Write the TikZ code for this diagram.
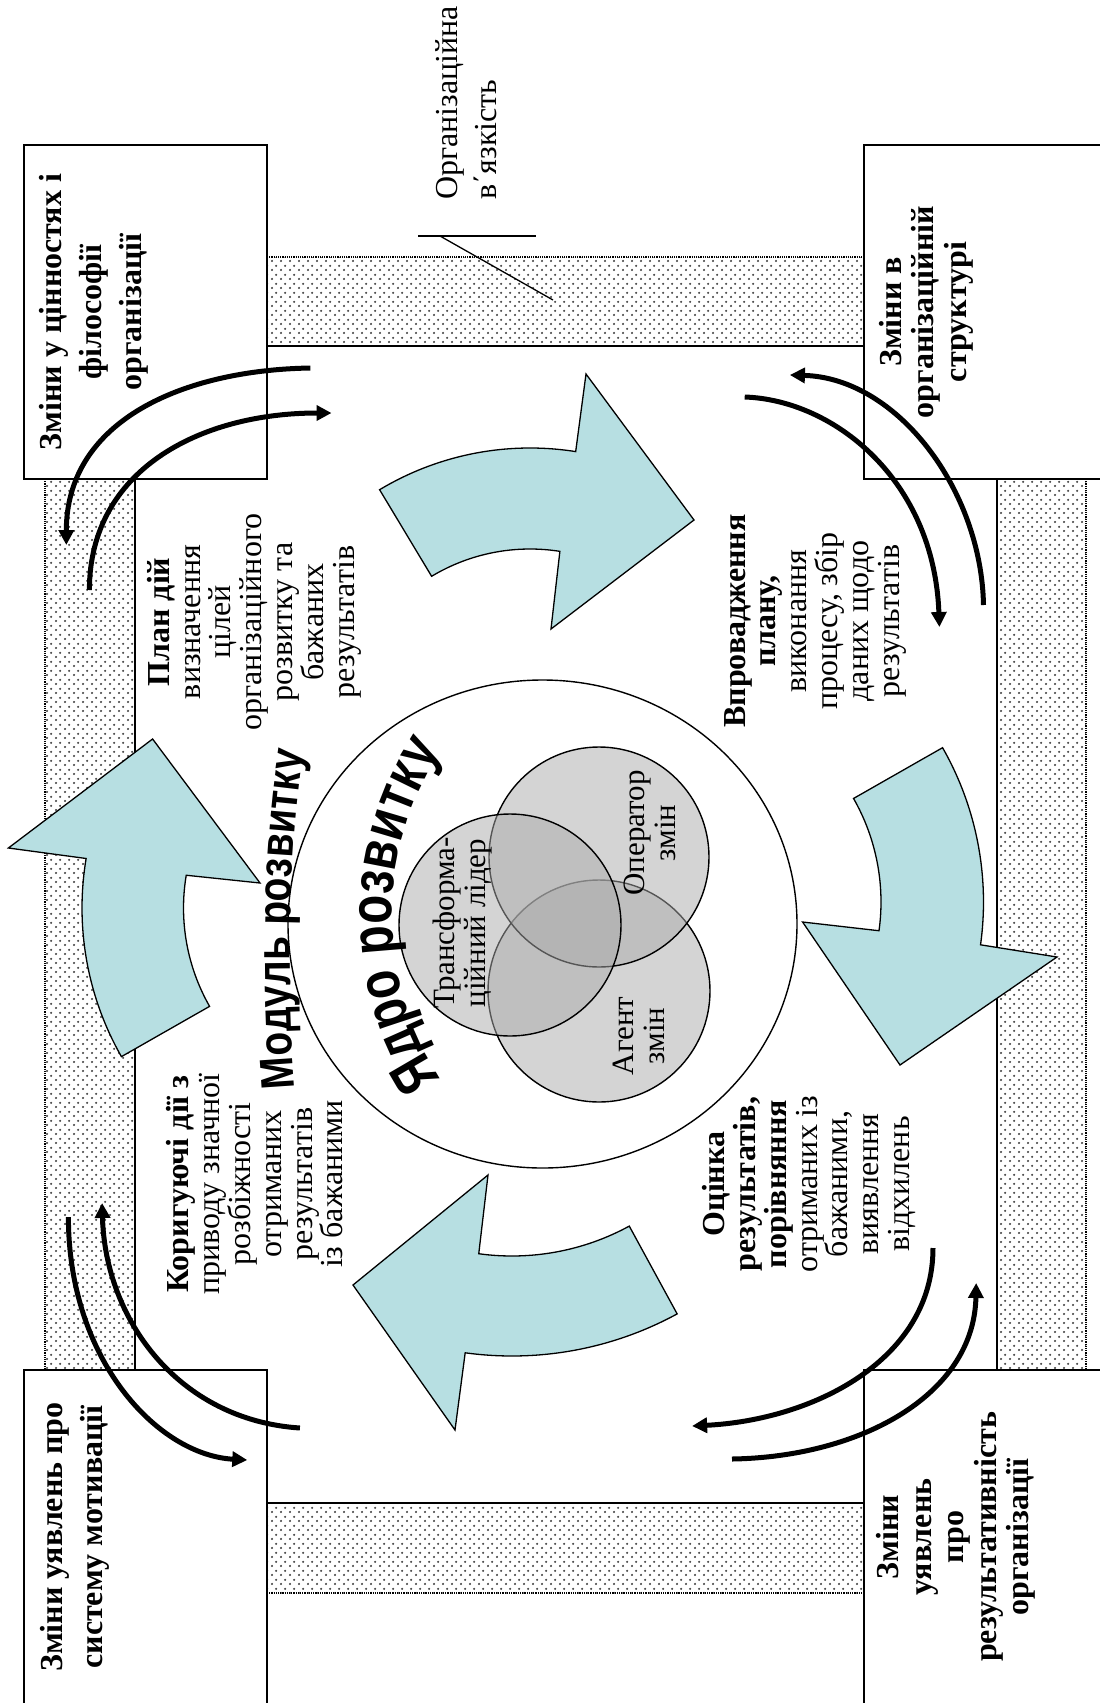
\documentclass[tikz,border=0pt]{standalone}
\usepackage{fontspec}
\setmainfont{Liberation Serif}
\newfontfamily\wordartA{Liberation Sans}[FakeStretch=0.83]
\newfontfamily\wordartB{Liberation Sans}[FakeStretch=0.79]
\usetikzlibrary{calc,patterns,decorations.text,arrows.meta}

\definecolor{arrowblue}{RGB}{183,223,226}

% dot texture for the viscosity bands
\pgfdeclarepatternformonly{bandDots}{\pgfqpoint{0pt}{0pt}}{\pgfqpoint{9pt}{9pt}}{\pgfqpoint{9pt}{9pt}}{%
  \pgfpathcircle{\pgfqpoint{2.25pt}{2.25pt}}{1.3pt}%
  \pgfpathcircle{\pgfqpoint{6.75pt}{6.75pt}}{1.3pt}%
  \pgfusepath{fill}%
}

\begin{document}
\begin{tikzpicture}[x=1pt,y=1pt,
  frame/.style={draw=black,line width=1.6pt,fill=white},
  band/.style={pattern=bandDots,pattern color=black!75},
  solidedge/.style={line width=1.6pt},
  dotedge/.style={line width=1.2pt,densely dotted},
  flow/.style={line width=5pt,-{Triangle[length=15pt,width=15pt]}},
  bluearrow/.style={fill=arrowblue,draw=black,line width=1.3pt,line join=miter},
  venn/.style={fill=black!33,fill opacity=0.5,draw=black,line width=1.4pt},
  lbl/.style={rotate=90,align=center,inner sep=0pt},
  cornertxt/.style={lbl,font=\bfseries\fontsize{32}{40}\selectfont},
  cornertxtR/.style={lbl,font=\bfseries\fontsize{32}{32.5}\selectfont},
  stagetxt/.style={lbl,font=\fontsize{32}{30.8}\selectfont},
  venntxt/.style={lbl,font=\fontsize{31}{31}\selectfont}
]
\useasboundingbox (0,0) rectangle (1100,-1703);
\fill[white] (0,0) rectangle (1100,-1703);

% ---- textured bands ----
\fill[band] (267,-257) rectangle (864,-346);
\draw[dotedge] (267,-257) -- (864,-257);
\draw[solidedge] (267,-346) -- (864,-346);

\fill[band] (267,-1503) rectangle (864,-1593);
\draw[solidedge] (267,-1503) -- (864,-1503);
\draw[dotedge] (267,-1593) -- (864,-1593);

\fill[band] (45,-479) rectangle (135,-1370);
\draw[dotedge] (45,-479) -- (45,-1370);
\draw[solidedge] (135,-479) -- (135,-1370);

\fill[band] (997,-479) rectangle (1086,-1370);
\draw[solidedge] (997,-479) -- (997,-1370);
\draw[dotedge] (1086,-479) -- (1086,-1370);

% ---- corner boxes ----
\draw[frame] (24,-145) rectangle (267,-479);
\draw[frame] (864,-145) rectangle (1112,-479);
\draw[frame] (24,-1370) rectangle (267,-1715);
\draw[frame] (864,-1370) rectangle (1112,-1715);

\node[cornertxt] (tlTxt) at (94,-312) {Зміни у цінностях і\\філософії\\організації};
\node[cornertxtR] (trTxt) at (926,-312) {Зміни в\\організаційній\\структурі};
\node[cornertxt] (blTxt) at (75,-1537) {Зміни уявлень про\\систему мотивації};
\node[cornertxtR] (brTxt) at (956,-1537) {Зміни\\уявлень\\про\\результативність\\організації};

% ---- band label with leader ----
\node[lbl,align=left,anchor=west,font=\fontsize{32}{39}\selectfont] (visc) at (466,-200) {Організаційна\\в΄язкість};
\coordinate (leadA) at (418,-236);
\coordinate (leadB) at (536,-236);
\coordinate (leadK) at (440,-236);
\coordinate (leadEnd) at (553,-300);
\draw[line width=1.3pt] (leadA) -- (leadB);
\draw[line width=1.3pt] (leadK) -- (leadEnd);

% ---- development module circle ----
\draw[line width=1.4pt,fill=white] (542.5,-924) ellipse [x radius=254.5, y radius=244];

% ---- core: three overlapping roles ----
\draw[venn] (599,-991) circle [radius=111];
\draw[venn] (599,-857) circle [radius=110];
\draw[venn] (510,-925) circle [radius=111];
\node[venntxt] (leader) at (463,-923) {Трансформа-\\ційний лідер};
\node[venntxt] (oper) at (650,-833) {Оператор\\змін};
\node[venntxt] (agent) at (639,-1036) {Агент\\змін};

% ---- curved titles ----
\path[decorate,decoration={text along path,text align=center,
  text={|\wordartA\bfseries\fontsize{47}{47}\selectfont|Модуль розвитку}}]
  (300,-1140) .. controls (285,-1010) and (285,-830) .. (313,-700);
\path[decorate,decoration={text along path,text align=center,
  text={|\wordartB\bfseries\fontsize{60}{60}\selectfont|Ядро розвитку}}]
  ($(690,-915)+(225:298)$) arc[start angle=225,end angle=135,radius=298];

% ---- four cycle block arrows ----
\coordinate (cTop) at (530,-740);
\coordinate (cRight) at (672,-902);
\coordinate (cBottom) at (512,-1011);
\coordinate (cLeft) at (382,-908);

\draw[bluearrow] ($(cTop)+(121:292)$) arc[start angle=121,end angle=81,radius=292]
  -- (586,-374) -- (694,-520) -- (551,-629)
  -- ($(cTop)+(81:191)$) arc[start angle=81,end angle=121,radius=191] -- cycle;

\draw[bluearrow] ($(cRight)+(29.7:311.5)$) arc[start angle=29.7,end angle=-7.9,radius=311.5]
  -- (1057,-957) -- (900,-1065) -- (802.6,-922)
  -- ($(cRight)+(-7.9:209)$) arc[start angle=-7.9,end angle=29.7,radius=209] -- cycle;

\draw[bluearrow] ($(cBottom)+(-61.4:345)$) arc[start angle=-61.4,end angle=-97.8,radius=345]
  -- (455,-1430) -- (353,-1285) -- (488,-1175)
  -- ($(cBottom)+(-97.8:245)$) arc[start angle=-97.8,end angle=-61.4,radius=245] -- cycle;

\draw[bluearrow] ($(cLeft)+(209.7:300)$) arc[start angle=209.7,end angle=170.5,radius=300]
  -- (8.4,-848) -- (152.6,-739) -- (260,-883)
  -- ($(cLeft)+(170.5:198.5)$) arc[start angle=170.5,end angle=209.7,radius=198.5] -- cycle;

% ---- stage descriptions ----
\node[stagetxt] (plan) at (254,-622) {\textbf{План дій}\\визначення\\цілей\\організаційного\\розвитку та\\бажаних\\результатів};
\node[stagetxt] (impl) at (815,-621) {\textbf{Впровадження}\\\textbf{плану,}\\виконання\\процесу, збір\\даних щодо\\результатів};
\node[stagetxt] (corr) at (255,-1184) {\textbf{Коригуючі дії з}\\приводу значної\\розбіжності\\отриманих\\результатів\\із бажаними};
\node[stagetxt] (eval) at (809,-1184) {\textbf{Оцінка}\\\textbf{результатів,}\\\textbf{порівняння}\\отриманих із\\бажаними,\\виявлення\\відхилень};

% ---- exchange arrows at the corners ----
\coordinate (aS) at (310.4,-368); \coordinate (aE) at (66.3,-545);
\coordinate (bS) at (89.4,-590);  \coordinate (bE) at (331.5,-413);
\coordinate (cS) at (744.7,-397); \coordinate (cE) at (939.4,-627);
\coordinate (dS) at (983.5,-605); \coordinate (dE) at (789.9,-375);
\coordinate (eS) at (933,-1248);  \coordinate (eE) at (692.1,-1426);
\coordinate (fS) at (732,-1459);  \coordinate (fE) at (976.2,-1283);
\coordinate (gS) at (68.4,-1217); \coordinate (gE) at (247.3,-1460);
\coordinate (hS) at (299.9,-1428);\coordinate (hE) at (102.1,-1203);

\draw[flow] (aS) .. controls (184,-370) and (66.3,-420) .. (aE);
\draw[flow] (bS) .. controls (89.4,-470) and (200,-413) .. (bE);
\draw[flow] (cS) .. controls (834.1,-400) and (934.1,-480) .. (cE);
\draw[flow] (dS) .. controls (981.4,-490) and (897.3,-378) .. (dE);
\draw[flow] (eS) .. controls (933,-1360) and (813.1,-1420) .. (eE);
\draw[flow] (fS) .. controls (860.4,-1457) and (974,-1395) .. (fE);
\draw[flow] (gS) .. controls (68.4,-1360) and (157.8,-1455) .. (gE);
\draw[flow] (hS) .. controls (178.9,-1420) and (105.2,-1320) .. (hE);
\end{tikzpicture}
\end{document}
